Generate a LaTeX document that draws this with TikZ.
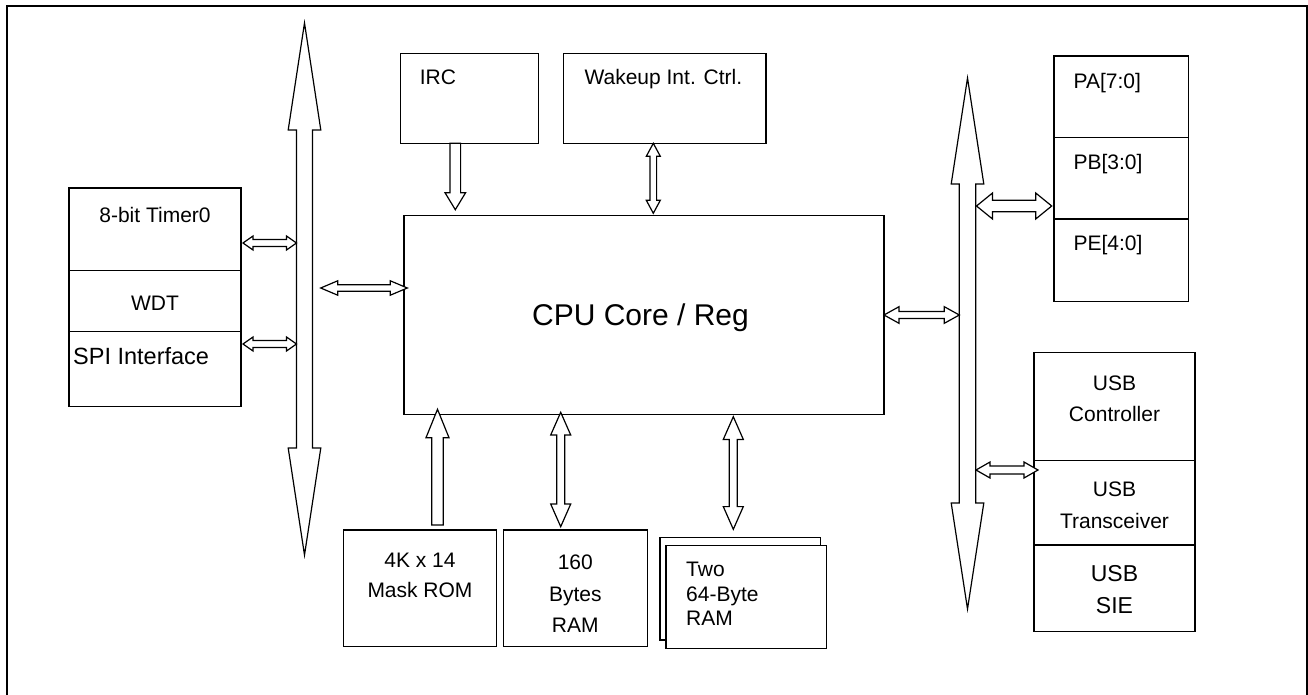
\documentclass[tikz,border=0pt]{standalone}
\usepackage{fontspec}
\setmainfont{Liberation Sans}
\usetikzlibrary{positioning,calc}

\begin{document}
\begin{tikzpicture}[
  x=1pt,y=-1pt,
  box/.style={draw,line width=1.5pt,fill=white,inner sep=0pt,outer sep=0pt},
  lbl/.style={inner sep=0pt,anchor=base,align=center,font=\fontsize{21}{31.6}\selectfont},
  lbll/.style={lbl,anchor=base west,align=left},
  dbl/.style args={#1/#2/#3}{draw,fill=white,line width=1.2pt,line join=miter,
    to path={
      -- ($(\tikztostart)!#3!(\tikztotarget)!#2!90:(\tikztotarget)$)
      -- ($(\tikztostart)!#3!(\tikztotarget)!#1!90:(\tikztotarget)$)
      -- ($(\tikztotarget)!#3!(\tikztostart)!#1!-90:(\tikztostart)$)
      -- ($(\tikztotarget)!#3!(\tikztostart)!#2!-90:(\tikztostart)$)
      -- (\tikztotarget)
      -- ($(\tikztotarget)!#3!(\tikztostart)!#2!90:(\tikztostart)$)
      -- ($(\tikztotarget)!#3!(\tikztostart)!#1!90:(\tikztostart)$)
      -- ($(\tikztostart)!#3!(\tikztotarget)!#1!-90:(\tikztotarget)$)
      -- ($(\tikztostart)!#3!(\tikztotarget)!#2!-90:(\tikztotarget)$)
      -- cycle}},
  sgl/.style args={#1/#2/#3}{draw,fill=white,line width=1.2pt,line join=miter,
    to path={
      -- ($(\tikztostart)!#1!90:(\tikztotarget)$)
      -- ($(\tikztotarget)!#3!(\tikztostart)!#1!-90:(\tikztostart)$)
      -- ($(\tikztotarget)!#3!(\tikztostart)!#2!-90:(\tikztostart)$)
      -- (\tikztotarget)
      -- ($(\tikztotarget)!#3!(\tikztostart)!#2!90:(\tikztostart)$)
      -- ($(\tikztotarget)!#3!(\tikztostart)!#1!90:(\tikztostart)$)
      -- ($(\tikztostart)!#1!-90:(\tikztotarget)$)
      -- cycle}}
]
\useasboundingbox (0,0) rectangle (1308,695);
\draw[line width=1.8pt] (7,695) |- (1307,6) -- (1307,695);

% left column
\node[box,anchor=north west,minimum width=172pt,minimum height=82.7pt] (timer) at (69,188) {};
\node[box,below=0pt of timer,minimum width=172pt,minimum height=61pt] (wdt) {};
\node[box,below=0pt of wdt,minimum width=172pt,minimum height=75pt] (spi) {};

% top and core
\node[box,anchor=north west,minimum width=138pt,minimum height=90pt] (irc) at (400.7,53.3) {};
\node[box,anchor=north west,minimum width=202.3pt,minimum height=90pt] (wake) at (563.7,53.3) {};
\node[box,anchor=north west,minimum width=480pt,minimum height=198.6pt] (cpu) at (404,215.7) {};

% memories
\node[box,anchor=north west,minimum width=153.4pt,minimum height=116.7pt] (rom) at (343.3,530) {};
\node[box,right=6.6pt of rom,minimum width=144pt,minimum height=116.7pt] (ram160) {};
\node[box,anchor=north west,minimum width=160.7pt,minimum height=102.7pt] (ram64b) at (660,537.3) {};
\node[box,anchor=north west,minimum width=160.7pt,minimum height=103pt] (ram64) at (666,545.3) {};

% right column
\node[box,anchor=north west,minimum width=134.3pt,minimum height=81.7pt] (pa) at (1054,56) {};
\node[box,below=0pt of pa,minimum width=134.3pt,minimum height=81.3pt] (pb) {};
\node[box,below=0pt of pb,minimum width=134.3pt,minimum height=82.7pt] (pe) {};
\node[box,anchor=north west,minimum width=161pt,minimum height=108.4pt] (usbc) at (1034,352.3) {};
\node[box,below=0pt of usbc,minimum width=161pt,minimum height=84.3pt] (usbt) {};
\node[box,below=0pt of usbt,minimum width=161pt,minimum height=86.7pt] (usbs) {};

% labels (base = last line)
\node[lbl] (timertxt) at ([yshift=-34.5pt]timer.north) {8-bit Timer0};
\node[lbl] (wdttxt) at ([yshift=-39.3pt]wdt.north) {WDT};
\node[lbll,font=\fontsize{23.5}{28}\selectfont] (spitxt) at ([xshift=4pt,yshift=-32.5pt]spi.north west) {SPI Interface};
\node[lbll] (irctxt) at ([xshift=19pt,yshift=-31.5pt]irc.north west) {IRC};
\node[lbl] (waketxt) at ([xshift=-1.5pt,yshift=-31.5pt]wake.north) {Wakeup Int. Ctrl.};
\node[lbl,font=\fontsize{30}{36}\selectfont] (cputxt) at ([xshift=-3.5pt,yshift=-10pt]cpu.center) {CPU Core / Reg};
\node[lbl,font=\fontsize{21}{30}\selectfont] (romtxt) at ([yshift=-67.5pt]rom.north) {4K x 14\\Mask ROM};
\node[lbl] (ram160txt) at ([yshift=-102.6pt]ram160.north) {160\\Bytes\\RAM};
\node[lbll,font=\fontsize{21}{24.5}\selectfont] (ram64txt) at ([xshift=20pt,yshift=-80.5pt]ram64.north west) {Two\\64-Byte\\RAM};
\node[lbll] (patxt) at ([xshift=19.4pt,yshift=-32.5pt]pa.north west) {PA[7:0]};
\node[lbll] (pbtxt) at ([xshift=19.4pt,yshift=-32pt]pb.north west) {PB[3:0]};
\node[lbll] (petxt) at ([xshift=19.4pt,yshift=-31.2pt]pe.north west) {PE[4:0]};
\node[lbl] (usbctxt) at ([yshift=-69.5pt]usbc.north) {USB\\Controller};
\node[lbl] (usbttxt) at ([yshift=-67.7pt]usbt.north) {USB\\Transceiver};
\node[lbl,font=\fontsize{23}{31.7}\selectfont] (usbstxt) at ([yshift=-68.2pt]usbs.north) {USB\\SIE};

% buses
\coordinate (lbtop) at (304.5,23);
\coordinate (lbbot) at (304.5,555);
\coordinate (rbtop) at (967.5,78);
\coordinate (rbbot) at (967.5,609);
\draw[dbl=8pt/16.3pt/107pt] (lbtop) to (lbbot);
\draw[dbl=8.2pt/16.3pt/106pt] (rbtop) to (rbbot);

% links
\draw[dbl=3.5pt/7pt/10pt] ([xshift=2pt]timer.east |- 0,243) to ([xshift=-8pt]lbtop |- 0,243);
\draw[dbl=3.5pt/7pt/10pt] ([xshift=2pt]spi.east |- 0,344) to ([xshift=-8pt]lbtop |- 0,344);
\draw[dbl=3.3pt/7.2pt/17pt] ([xshift=16.2pt]lbtop |- 0,288) to ([xshift=3.3pt]cpu.west |- 0,288);
\draw[sgl=5.3pt/10.3pt/17pt] (455.3,0 |- irc.south) to ([yshift=6pt]455.3,0 |- cpu.north);
\draw[dbl=3.3pt/7pt/13pt] (653.3,0 |- wake.south) to ([yshift=2.4pt]653.3,0 |- cpu.north);
\draw[sgl=5.8pt/11.5pt/28.4pt] ([yshift=5pt]437.5,0 |- rom.north) to ([yshift=5pt]437.5,0 |- cpu.south);
\draw[dbl=4pt/10pt/22.7pt] ([yshift=2pt]560.7,0 |- cpu.south) to ([yshift=3.3pt]560.7,0 |- ram160.north);
\draw[dbl=4pt/10pt/22.7pt] ([yshift=-2.4pt]733.3,0 |- cpu.south) to ([yshift=8pt]733.3,0 |- ram64b.north);
\draw[dbl=3.5pt/8.3pt/15pt] (cpu.east) to ([xshift=-8.2pt]rbtop |- cpu.east);
\draw[dbl=5.8pt/13pt/16pt] ([xshift=9pt]rbtop |- 0,206) to ([xshift=-2.3pt]pb.west |- 0,206);
\draw[dbl=4pt/8pt/14pt] ([xshift=8.5pt]rbtop |- 0,470) to ([xshift=4pt]usbt.west |- 0,470);
\end{tikzpicture}
\end{document}
